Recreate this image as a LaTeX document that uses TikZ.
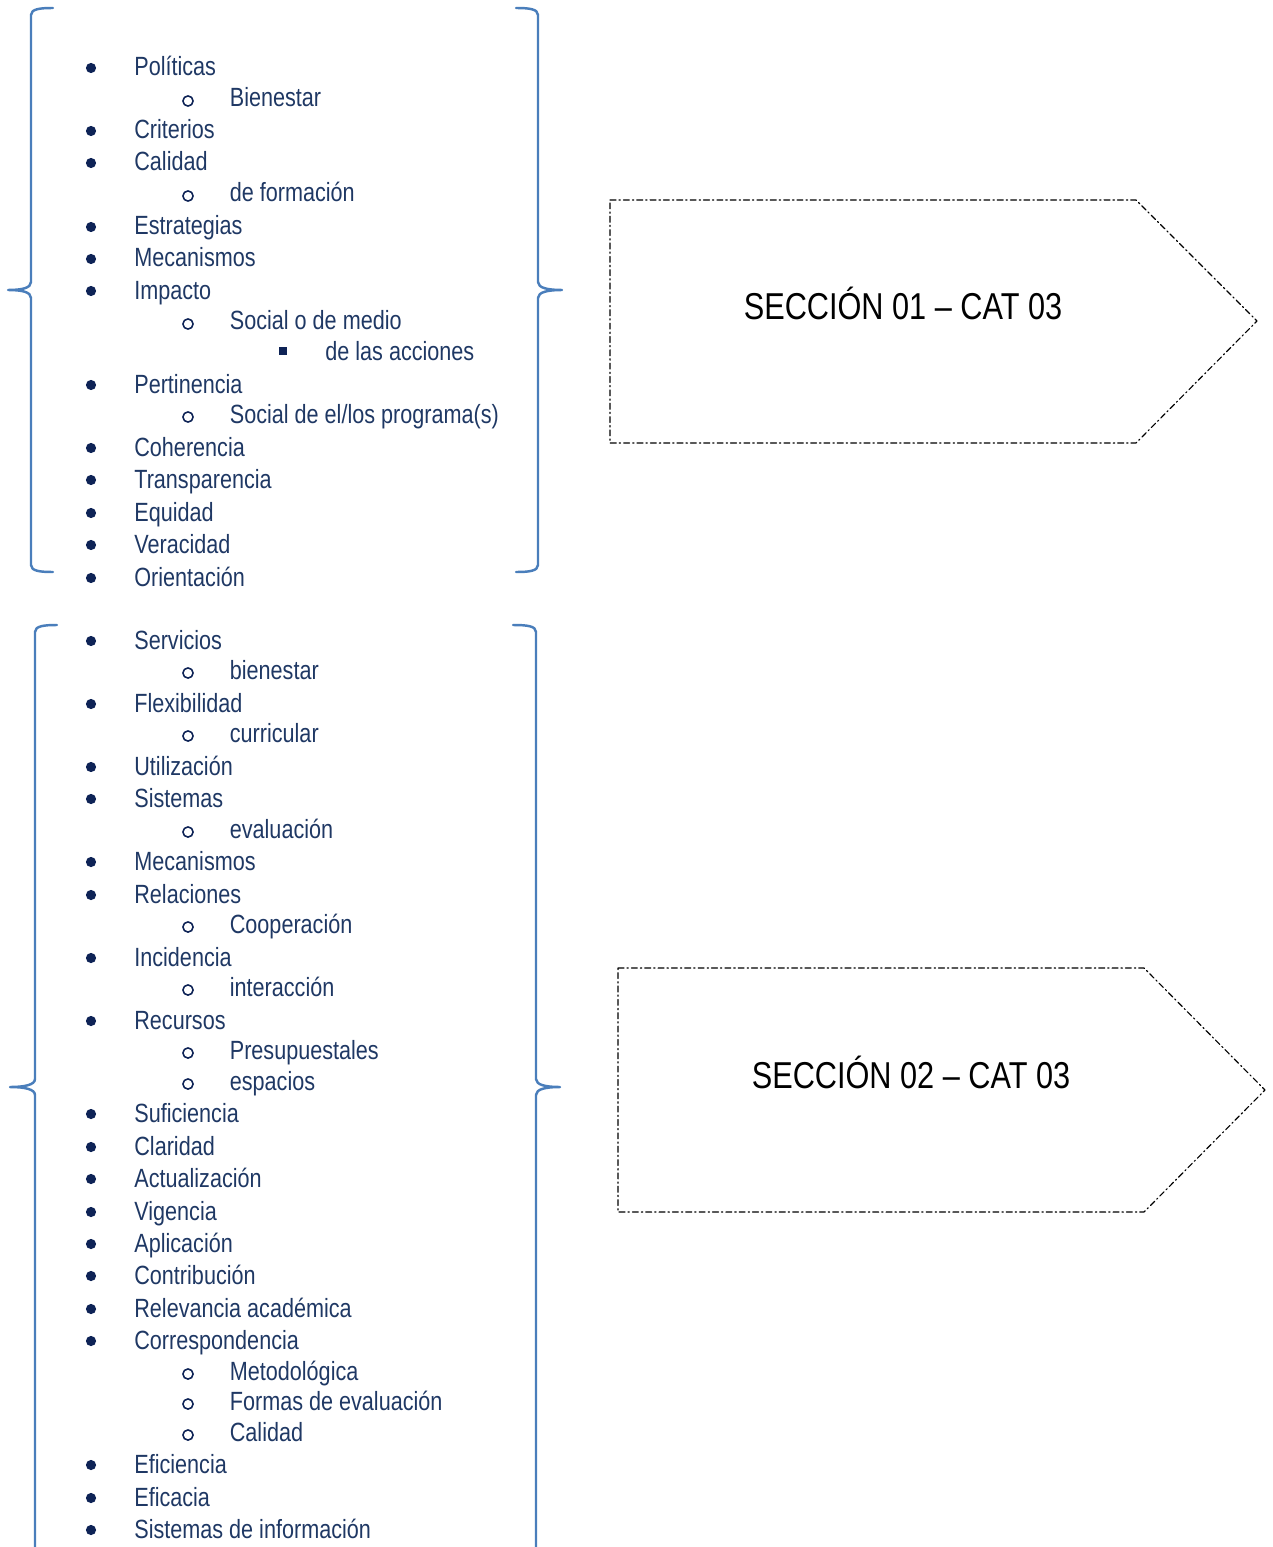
\documentclass[tikz,border=0pt]{standalone}
\usepackage{fontspec}
\setmainfont{Liberation Sans}[FakeStretch=0.82]
\definecolor{textoazul}{HTML}{1F3864}
\definecolor{vineta}{HTML}{0E2356}
\definecolor{llave}{HTML}{4A7EBB}
\begin{document}
\begin{tikzpicture}[x=0.02cm, y=-0.02cm, line join=round, line cap=round,
	item/.style={anchor=base west, text=textoazul, inner sep=0pt, font=\fontsize{15}{18}\selectfont},
	llavelinea/.style={draw=llave, line width=1.4pt},
	flecha/.style={draw=black, line width=0.65pt, dash pattern=on 3.4pt off 1.7pt on 0.8pt off 1.7pt},
	seccion/.style={anchor=base, text=black, inner sep=0pt, font=\fontsize{21.3}{25}\selectfont}]
	\useasboundingbox (0,0) rectangle (1272,1547);
	\clip (0,0) rectangle (1272,1547);
	% llaves
	\draw[llavelinea] (53,8) .. controls (40,8) and (31,9) .. (31,15) -- (31,282) .. controls (31,288) and (22,290) .. (8,290) .. controls (22,290) and (31,292) .. (31,298) -- (31,565) .. controls (31,571) and (40,572) .. (53,572);
	\draw[llavelinea] (516,8) .. controls (529,8) and (538,9) .. (538,15) -- (538,282) .. controls (538,288) and (548,290) .. (562,290) .. controls (548,290) and (538,292) .. (538,298) -- (538,565) .. controls (538,571) and (529,572) .. (516,572);
	\draw[llavelinea] (57,625) .. controls (44,625) and (35,626) .. (35,632) -- (35,1079) .. controls (35,1085) and (24,1087) .. (10,1087) .. controls (24,1087) and (35,1089) .. (35,1095) -- (35,1560);
	\draw[llavelinea] (513,625) .. controls (527,625) and (536,626) .. (536,632) -- (536,1079) .. controls (536,1085) and (546,1087) .. (560,1087) .. controls (546,1087) and (536,1089) .. (536,1095) -- (536,1560);
	% flechas
	\draw[flecha] (610,200) -- (1136,200) -- (1257,321) -- (1136,443) -- (610,443) -- cycle;
	\node[seccion] (sec1) at (903,319) {SECCIÓN 01 – CAT 03};
	\draw[flecha] (618,968) -- (1144,968) -- (1265,1090) -- (1144,1212) -- (618,1212) -- cycle;
	\node[seccion] (sec2) at (911,1088) {SECCIÓN 02 – CAT 03};
	% listas
	\foreach \n/\y/\t in {1/67/Políticas, 2/98/Bienestar, 1/130/Criterios, 1/162/Calidad, 2/193/de formación, 1/226/Estrategias, 1/258/Mecanismos, 1/290/Impacto, 2/321/Social o de medio, 3/351/de las acciones, 1/384/Pertinencia, 2/414/{Social de el/los programa(s)}, 1/447/Coherencia, 1/479/Transparencia, 1/512/Equidad, 1/544/Veracidad, 1/577/Orientación,
		1/640/Servicios, 2/670/bienestar, 1/703/Flexibilidad, 2/733/curricular, 1/766/Utilización, 1/798/Sistemas, 2/829/evaluación, 1/861/Mecanismos, 1/894/Relaciones, 2/924/Cooperación, 1/957/Incidencia, 2/987/interacción, 1/1020/Recursos, 2/1050/Presupuestales, 2/1081/espacios, 1/1113/Suficiencia, 1/1146/Claridad, 1/1178/Actualización, 1/1211/Vigencia, 1/1243/Aplicación, 1/1275/Contribución, 1/1308/Relevancia académica, 1/1340/Correspondencia, 2/1371/Metodológica, 2/1401/Formas de evaluación, 2/1432/Calidad, 1/1464/Eficiencia, 1/1497/Eficacia, 1/1529/Sistemas de información}
	{
		\ifcase\n\relax
		\or \fill[vineta] (91,{\y+1}) circle (2.9pt);
		\or \draw[vineta, line width=0.9pt] (188,{\y+3}) circle (2.9pt);
		\or \fill[vineta] (283,{\y}) ++(-2.4pt,-2.4pt) rectangle ++(4.8pt,4.8pt);
		\fi
		\node[item] (it\y) at ({134+95.5*(\n-1)},{\y+9}) {\t};
	}
\end{tikzpicture}
\end{document}
